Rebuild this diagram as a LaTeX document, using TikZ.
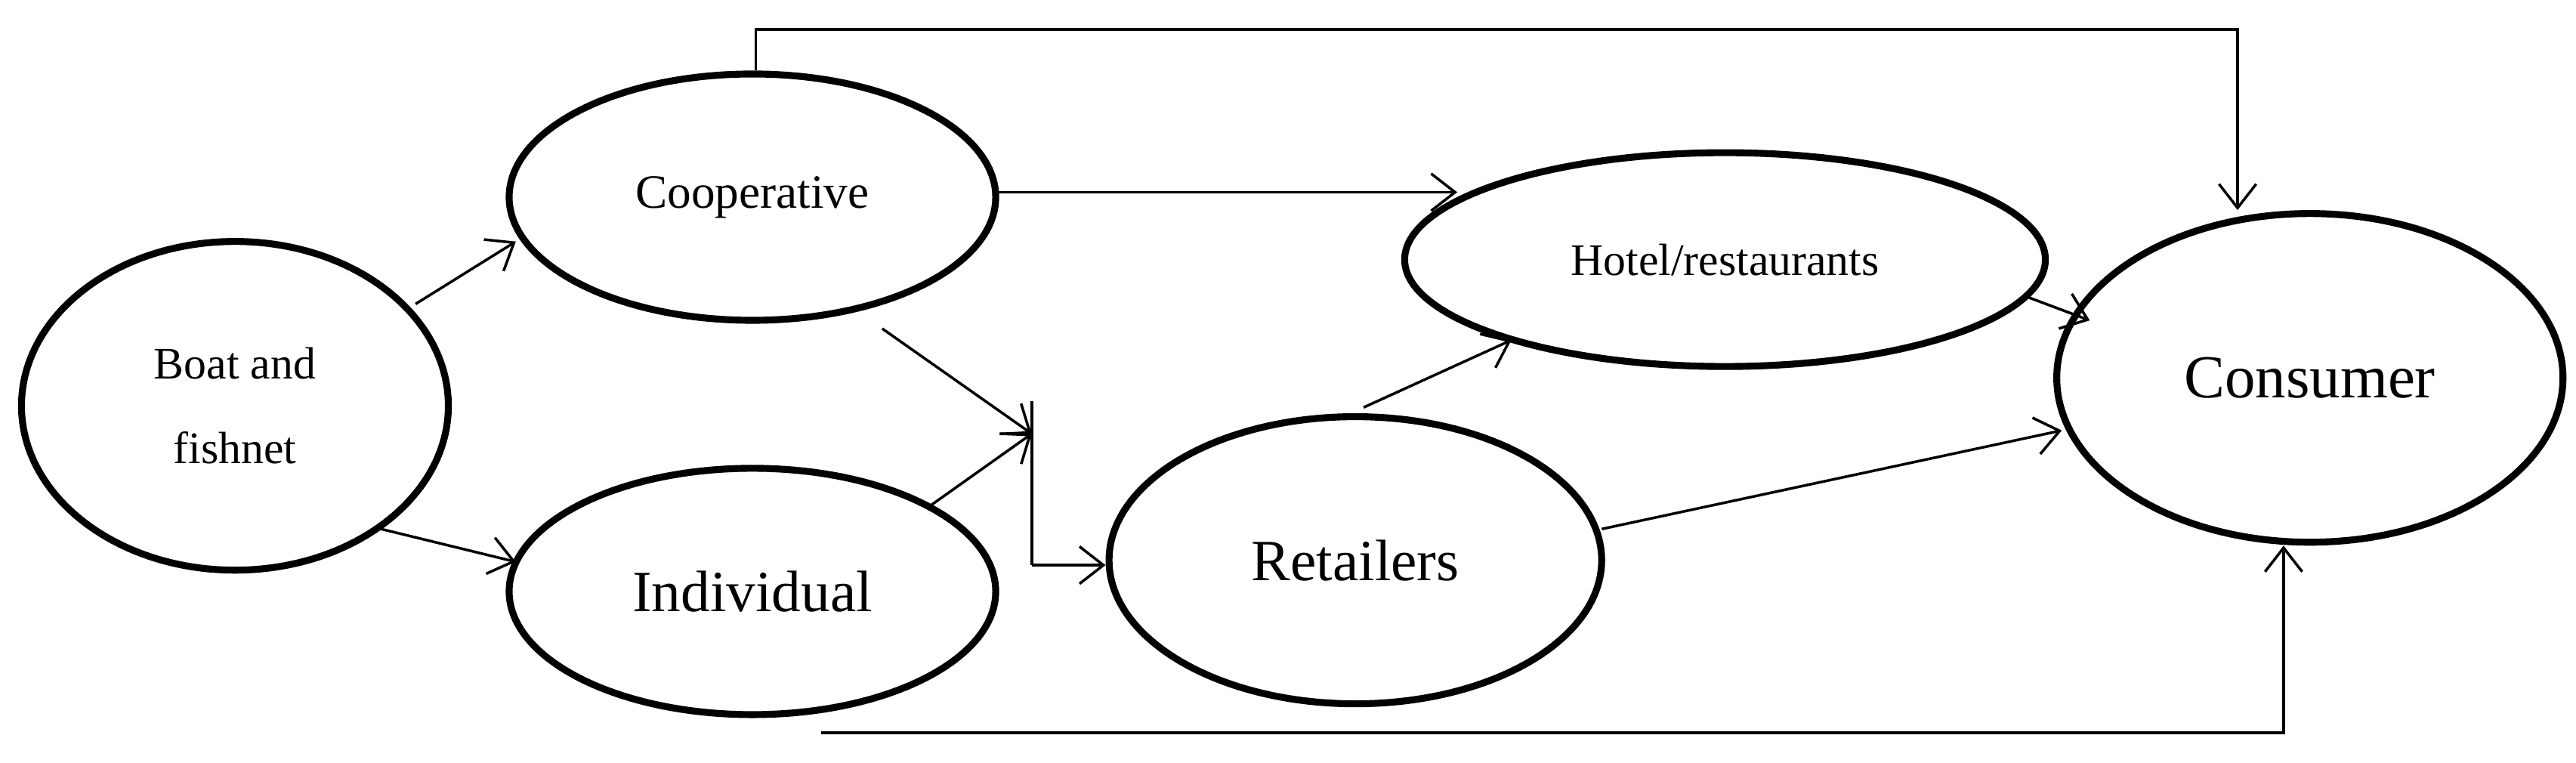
\documentclass[tikz,border=0pt]{standalone}
\usepackage{fontspec}
\setmainfont{Liberation Serif}
\usetikzlibrary{arrows.meta,shapes.geometric}
\begin{document}
\begin{tikzpicture}[x=0.02175cm,y=-0.02175cm,
  el/.style={draw,ellipse,line width=2.6pt,inner sep=0pt},
  ar/.style={line width=1pt,-{Straight Barb[length=9pt,width=14pt,line width=1pt]}},
  ln/.style={line width=1pt}]
\useasboundingbox (0,0) rectangle (1568,464);
\node[el,minimum width=5.65cm,minimum height=4.35cm,font=\fontsize{17}{28}\selectfont,align=center] (boat) at (143,247) {Boat and\\[4pt]fishnet};
\node[el,minimum width=6.44cm,minimum height=3.26cm,font=\fontsize{18}{21}\selectfont] (coop) at (458,120) {Cooperative};
\node[el,minimum width=6.44cm,minimum height=3.26cm,font=\fontsize{22}{25}\selectfont] (ind) at (458,360) {Individual};
\node[el,minimum width=6.52cm,minimum height=3.8cm,font=\fontsize{22}{25}\selectfont] (ret) at (825,341) {Retailers};
\node[el,minimum width=8.48cm,minimum height=2.83cm,font=\fontsize{17}{20}\selectfont] (hot) at (1050,158) {Hotel/restaurants};
\node[el,minimum width=6.7cm,minimum height=4.35cm,font=\fontsize{23}{26}\selectfont] (con) at (1406,230) {Consumer};
\coordinate (j) at (628,264);
\coordinate (jt) at (628,244);
\coordinate (jb) at (628,344);
\coordinate (a1) at (253,185); \coordinate (b1) at (314,147);
\coordinate (a2) at (232,322); \coordinate (b2) at (314,342);
\coordinate (a3) at (607,117); \coordinate (b3) at (887,117);
\coordinate (a4) at (537,200); \coordinate (a5) at (566,308);
\coordinate (a6) at (830,248); \coordinate (b6) at (920,207);
\coordinate (a7) at (1232,180); \coordinate (b7) at (1272,195);
\coordinate (a8) at (975,322); \coordinate (b8) at (1255,262);
\draw[ar] (a1) -- (b1);
\draw[ar] (a2) -- (b2);
\draw[ar] (a3) -- (b3);
\draw[ar] (coop.north -| 460,0) |- (1362,18) -- (con.north -| 1362,0);
\draw[ar] (a4) -- (j);
\draw[ar] (a5) -- (j);
\draw[ln] (jt) -- (jb);
\draw[ar] (jb) -- (ret.west |- jb);
\draw[ar] (a6) -- (b6);
\draw[ar] (a7) -- (b7);
\draw[ar] (a8) -- (b8);
\draw[ar] (500,446) -| (con.south -| 1390,0);
\end{tikzpicture}
\end{document}
